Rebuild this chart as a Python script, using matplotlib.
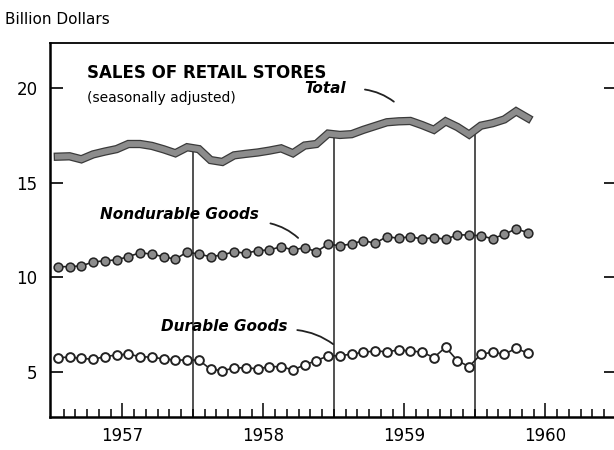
import matplotlib
matplotlib.use("Agg")
import matplotlib.pyplot as plt
import matplotlib.patheffects as pe
import numpy as np

plt.rcParams['font.family'] = ['DejaVu Sans']

# Monthly data, Jan 1957 - May 1960 (billion dollars, seasonally adjusted)
total = [16.38, 16.40, 16.24, 16.50, 16.65, 16.78, 17.05, 17.05, 16.95, 16.77, 16.56, 16.88,
         16.78, 16.20, 16.10, 16.45, 16.53, 16.60, 16.70, 16.82, 16.56, 16.97, 17.05, 17.60,
         17.53, 17.57, 17.80, 18.00, 18.20, 18.25, 18.27, 18.05, 17.80, 18.25, 17.95, 17.55,
         18.02, 18.15, 18.35, 18.78, 18.42]
nondurable = [10.56, 10.56, 10.60, 10.81, 10.87, 10.92, 11.09, 11.30, 11.22, 11.09, 10.95, 11.34,
              11.22, 11.09, 11.18, 11.35, 11.27, 11.41, 11.44, 11.62, 11.44, 11.57, 11.35, 11.75,
              11.67, 11.76, 11.94, 11.80, 12.15, 12.06, 12.15, 12.02, 12.10, 12.01, 12.24, 12.24,
              12.19, 12.04, 12.27, 12.56, 12.36]
durable = [5.75, 5.77, 5.71, 5.66, 5.80, 5.89, 5.93, 5.80, 5.77, 5.68, 5.62, 5.62,
           5.62, 5.13, 5.06, 5.19, 5.22, 5.15, 5.27, 5.27, 5.10, 5.36, 5.59, 5.84,
           5.85, 5.93, 6.03, 6.10, 6.06, 6.15, 6.10, 6.04, 5.75, 6.30, 5.59, 5.27,
           5.93, 6.03, 5.93, 6.24, 5.98]
year_labels = ['1957', '1958', '1959', '1960']

months = 1957 + (np.arange(len(total)) + 0.5) / 12

fig = plt.figure(figsize=(6.14, 4.5), dpi=100)
ax = fig.add_axes([50 / 614, 1 - 417.3 / 450, (616 - 50) / 614, (417.3 - 42.7) / 450])
ax.set_xlim(1956.986, 1961.0)
ax.set_ylim(2.59, 22.41)

# year separators running from the bottom up to the total line
for yr in [1958, 1959, 1960]:
    ax.plot([yr, yr], [2.59, np.interp(yr, months, total)], color='#222222', lw=1.1, zorder=1)

ax.plot(months, total, color='#8c8c8c', lw=4.2, solid_joinstyle='miter', zorder=3,
        path_effects=[pe.Stroke(linewidth=6, foreground='#3a3a3a'), pe.Normal()])
ax.plot(months, nondurable, color='#222222', lw=1.2, marker='o', ms=6.3,
        mfc='#8c8c8c', mec='#222222', mew=1.1, zorder=3)
ax.plot(months, durable, color='#222222', lw=1.2, marker='o', ms=6.3,
        mfc='white', mec='#222222', mew=1.4, zorder=3)

# ticks
ax.set_yticks([5, 10, 15, 20])
ax.set_yticklabels(['5', '10', '15', '20'])
ax.tick_params(axis='y', direction='in', length=9, width=1.2, left=True, right=True,
               labelsize=12, pad=9)
mid_years = [1957.5, 1958.5, 1959.5, 1960.5]
ax.set_xticks(mid_years)
ax.set_xticklabels(year_labels)
minor = [1957 + k / 12 for k in range(1, 48) if k % 12 != 6]
ax.set_xticks(minor, minor=True)
ax.tick_params(axis='x', which='major', direction='in', length=10, width=1.1,
               labelsize=12, pad=7)
ax.tick_params(axis='x', which='minor', direction='in', length=6, width=1.1)

for side in ['left', 'bottom']:
    ax.spines[side].set_linewidth(1.8)
ax.spines['top'].set_linewidth(1.3)
ax.spines['right'].set_linewidth(1.3)

# titles and labels
fig.text(5 / 614, 1 - 20 / 450, 'Billion Dollars', fontsize=11, va='center', ha='left')
ax.text(1957.25, 20.8, 'SALES OF RETAIL STORES', fontsize=12, fontweight='bold',
        va='center', ha='left')
ax.text(1957.25, 19.5, '(seasonally adjusted)', fontsize=10, va='center', ha='left')

lab = dict(fontsize=11, fontweight='bold', fontstyle='italic', va='center', ha='left')
ax.text(1958.79, 20.0, 'Total', **lab)
ax.text(1957.34, 13.30, 'Nondurable Goods', **lab)
ax.text(1957.77, 7.42, 'Durable Goods', **lab)

leader = dict(arrowstyle='-', color='#222222', lw=1.3, connectionstyle='arc3,rad=-0.15')
ax.annotate('', xy=(1959.44, 19.2), xytext=(1959.2, 19.95), arrowprops=leader)
ax.annotate('', xy=(1958.76, 11.98), xytext=(1958.53, 12.88), arrowprops=leader)
ax.annotate('', xy=(1959.01, 6.37), xytext=(1958.72, 7.22), arrowprops=leader)

fig.savefig('out.png', dpi=100)
